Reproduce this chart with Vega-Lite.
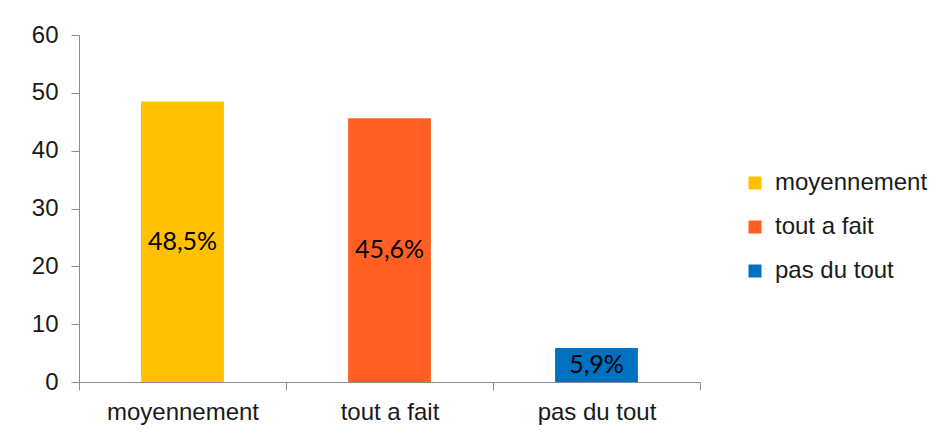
{
  "$schema": "https://vega.github.io/schema/vega-lite/v6.json",
  "autosize": {"type": "none"},
  "padding": {"left": 79, "top": 35, "right": 247, "bottom": 61},
  "width": 621,
  "height": 347,
  "background": "white",
  "data": {"values": [
    {"categorie": "moyennement", "pourcentage": 48.5, "etiquette": "48,5%"},
    {"categorie": "tout a fait", "pourcentage": 45.6, "etiquette": "45,6%"},
    {"categorie": "pas du tout", "pourcentage": 5.9, "etiquette": "5,9%"}
  ]},
  "transform": [{"calculate": "datum.pourcentage / 2", "as": "milieu"}],
  "encoding": {
    "x": {
      "field": "categorie", "type": "nominal",
      "sort": ["moyennement", "tout a fait", "pas du tout"],
      "scale": {"paddingInner": 0, "paddingOuter": 0},
      "axis": {
        "title": null, "labelAngle": 0, "tickBand": "extent",
        "domainColor": "#8c8c8c", "tickColor": "#8c8c8c", "tickSize": 8,
        "labelFont": "Liberation Sans", "labelFontSize": 24, "labelColor": "#1a1a1a",
        "labelPadding": 10
      }
    }
  },
  "layer": [
    {
      "mark": {"type": "bar", "width": {"band": 0.4}},
      "encoding": {
        "y": {
          "field": "pourcentage", "type": "quantitative",
          "scale": {"domain": [0, 60]},
          "axis": {
            "title": null, "grid": false, "values": [0, 10, 20, 30, 40, 50, 60],
            "labelOverlap": false, "labelFlush": false,
            "domainColor": "#8c8c8c", "tickColor": "#8c8c8c", "tickSize": 8,
            "labelFont": "Liberation Sans", "labelFontSize": 24, "labelColor": "#1a1a1a",
            "labelPadding": 13
          }
        },
        "color": {
          "field": "categorie", "type": "nominal",
          "sort": ["moyennement", "tout a fait", "pas du tout"],
          "scale": {"domain": ["moyennement", "tout a fait", "pas du tout"], "range": ["#FFC000", "#FF5F22", "#0070C0"]},
          "legend": {
            "title": null, "orient": "none", "legendX": 664, "legendY": 136,
            "symbolType": "square", "symbolSize": 169, "symbolStrokeWidth": 0,
            "labelFont": "Liberation Sans", "labelFontSize": 24, "labelColor": "#1a1a1a",
            "rowPadding": 20, "labelOffset": 8
          }
        }
      }
    },
    {
      "mark": {"type": "text", "font": "Lato", "fontSize": 25, "color": "black"},
      "encoding": {
        "y": {"field": "milieu", "type": "quantitative"},
        "text": {"field": "etiquette"}
      }
    }
  ],
  "config": {"view": {"stroke": null}}
}
